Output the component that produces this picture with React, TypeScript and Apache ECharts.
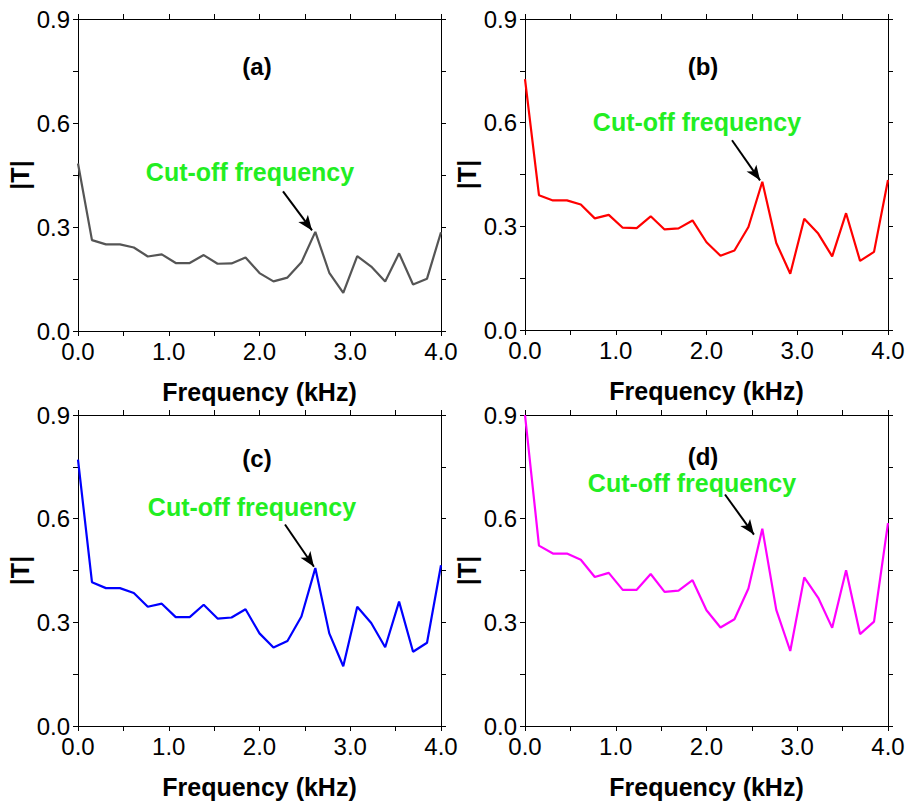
import React, { useEffect, useRef } from "react";
import * as echarts from "echarts";

const freqKHz = [0, 0.154, 0.308, 0.462, 0.615, 0.769, 0.923, 1.077, 1.231, 1.385, 1.538, 1.692, 1.846, 2.0, 2.154, 2.308, 2.462, 2.615, 2.769, 2.923, 3.077, 3.231, 3.385, 3.538, 3.692, 3.846, 4.0];

const seriesA = [0.483, 0.262, 0.25, 0.25, 0.241, 0.215, 0.221, 0.196, 0.196, 0.219, 0.194, 0.195, 0.212, 0.167, 0.143, 0.154, 0.198, 0.286, 0.168, 0.11, 0.216, 0.186, 0.143, 0.224, 0.134, 0.151, 0.285];
const seriesB = [0.726, 0.39, 0.375, 0.375, 0.363, 0.323, 0.333, 0.296, 0.295, 0.329, 0.291, 0.294, 0.317, 0.254, 0.215, 0.23, 0.298, 0.429, 0.252, 0.163, 0.322, 0.279, 0.213, 0.338, 0.2, 0.226, 0.434];
const seriesC = [0.771, 0.416, 0.399, 0.399, 0.385, 0.345, 0.354, 0.315, 0.315, 0.351, 0.311, 0.314, 0.338, 0.268, 0.227, 0.246, 0.317, 0.457, 0.268, 0.173, 0.345, 0.298, 0.228, 0.36, 0.215, 0.241, 0.465];
const seriesD = [0.9, 0.522, 0.499, 0.499, 0.481, 0.431, 0.443, 0.394, 0.394, 0.44, 0.388, 0.392, 0.422, 0.335, 0.285, 0.309, 0.398, 0.571, 0.336, 0.217, 0.43, 0.371, 0.284, 0.451, 0.266, 0.302, 0.587];

const panelLabels = ["(a)", "(b)", "(c)", "(d)"];
const annotationText = "Cut-off frequency";
const xAxisName = "Frequency (kHz)";
const yAxisName = "|T|";

// arrow start/end in data coordinates [kHz, |T|]
const arrowStart = [[2.259, 0.403], [2.281, 0.549], [2.281, 0.583], [2.204, 0.67]];
const arrowEnd = [[2.579, 0.29], [2.59, 0.433], [2.6, 0.461], [2.523, 0.554]];

const FONT = '"Liberation Sans", Arial, sans-serif';

export default function App() {
  const ref = useRef<HTMLDivElement>(null);
  useEffect(() => {
    if (!ref.current) return;
    const chart = echarts.init(ref.current, null, { renderer: "svg" });
    const data = [seriesA, seriesB, seriesC, seriesD];
    const colors = ["#555555", "#ff0000", "#0000ff", "#ff00ff"];
    const grids = [
      { left: 78, top: 19, width: 363, height: 312 },
      { left: 525, top: 19, width: 363, height: 311 },
      { left: 78, top: 415, width: 363, height: 311 },
      { left: 525, top: 415, width: 363, height: 311 },
    ];
    const titlePos = [[257, 66], [703, 66], [257, 458], [703, 456]];
    const notePos = [[250, 172], [697, 122], [252, 507], [692, 483]];

    const xAxes: any[] = [];
    const yAxes: any[] = [];
    const series: any[] = [];
    const axisLine = { show: true, onZero: false, lineStyle: { color: "#000", width: 1 } };
    const axisTick = { show: true, inside: false, length: 5, lineStyle: { color: "#000", width: 1 } };
    grids.forEach((g, i) => {
      xAxes.push({
        type: "value", gridIndex: i, position: "bottom", min: 0, max: 4, interval: 0.5,
        axisLine, axisTick, splitLine: { show: false },
        axisLabel: {
          color: "#000", fontSize: 24, fontFamily: FONT, margin: 8, showMaxLabel: true, showMinLabel: true,
          formatter: (v: number) => (Math.round(v * 2) % 2 === 0 ? v.toFixed(1) : ""),
        },
        name: xAxisName, nameLocation: "middle", nameGap: 48,
        nameTextStyle: { color: "#000", fontSize: 25, fontWeight: "bold", fontFamily: FONT },
      });
      xAxes.push({
        type: "value", gridIndex: i, position: "top", min: 0, max: 4, interval: 0.5,
        axisLine, axisTick, splitLine: { show: false }, axisLabel: { show: false },
      });
      yAxes.push({
        type: "value", gridIndex: i, position: "left", min: 0, max: 0.9, interval: 0.15,
        axisLine, axisTick, splitLine: { show: false },
        axisLabel: {
          color: "#000", fontSize: 24, fontFamily: FONT, margin: 8,
          formatter: (v: number) => (Math.round(v / 0.15) % 2 === 0 ? v.toFixed(1) : ""),
        },
        name: yAxisName, nameLocation: "middle", nameGap: 46, nameRotate: 90,
        nameTextStyle: { color: "#000", fontSize: 25, fontWeight: "bold", fontFamily: FONT },
      });
      yAxes.push({
        type: "value", gridIndex: i, position: "right", min: 0, max: 0.9, interval: 0.15,
        axisLine, axisTick, splitLine: { show: false }, axisLabel: { show: false },
      });
      series.push({
        type: "line", xAxisIndex: i * 2, yAxisIndex: i * 2, showSymbol: false, symbol: "none",
        data: freqKHz.map((x, k) => [x, data[i][k]]),
        lineStyle: { color: colors[i], width: 2.2 }, itemStyle: { color: colors[i] },
        markLine: {
          silent: true, symbol: ["none", "arrow"], symbolSize: [9, 15],
          label: { show: false },
          lineStyle: { color: "#000", width: 2, type: "solid" },
          data: [[{ coord: arrowStart[i] }, { coord: arrowEnd[i] }]],
        },
      });
    });

    const graphic: any[] = [];
    titlePos.forEach((p, i) => {
      graphic.push({
        type: "text", x: p[0], y: p[1],
        style: { text: panelLabels[i], fill: "#000", font: `bold 24px ${FONT}`, textAlign: "center", textVerticalAlign: "middle" },
      });
    });
    notePos.forEach((p) => {
      graphic.push({
        type: "text", x: p[0], y: p[1],
        style: { text: annotationText, fill: "#22ee22", font: `bold 25px ${FONT}`, textAlign: "center", textVerticalAlign: "middle" },
      });
    });

    chart.setOption({
      animation: false,
      backgroundColor: "#fff",
      textStyle: { fontFamily: FONT },
      grid: grids,
      xAxis: xAxes,
      yAxis: yAxes,
      series,
      graphic,
    });
    return () => chart.dispose();
  }, []);
  return <div ref={ref} style={{ position: "fixed", left: 0, top: 0, width: 909, height: 801 }} />;
}
